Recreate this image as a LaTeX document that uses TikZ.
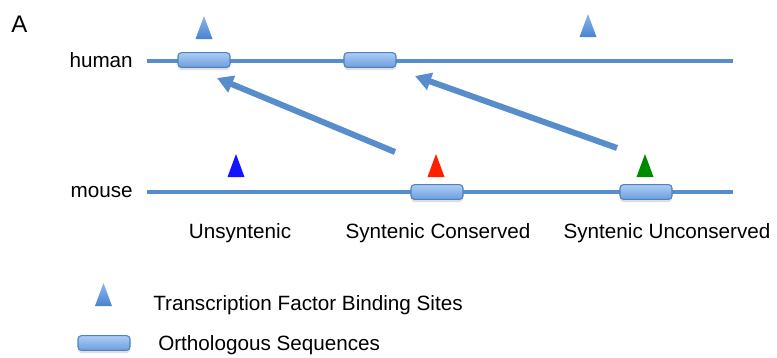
\documentclass[tikz,border=0pt]{standalone}
\usepackage{fontspec}
\setmainfont{Liberation Sans}
\usetikzlibrary{arrows.meta,shadows}

\definecolor{seqblue}{RGB}{88,141,204}
\definecolor{boxedge}{RGB}{79,129,189}
\definecolor{boxtop}{RGB}{172,205,246}
\definecolor{boxbot}{RGB}{108,158,220}
\definecolor{tftop}{RGB}{140,184,238}
\definecolor{tfbot}{RGB}{72,130,206}
\definecolor{tfred}{RGB}{255,30,0}
\definecolor{tfgreen}{RGB}{0,138,0}
\definecolor{tfblue}{RGB}{20,20,255}

\begin{document}
\begin{tikzpicture}[x=0.75pt,y=-0.75pt,
  font=\fontsize{15.5}{18}\selectfont,
  chrom/.style={line width=3pt, draw=seqblue},
  chromshadow/.style={line width=3.5pt, draw=black, opacity=.15, yshift=-2.2pt},
  ortho/.style={draw=boxedge, line width=0.8pt, rounded corners=2.5pt,
    top color=boxtop, bottom color=boxbot, minimum width=39pt,
    minimum height=11pt, inner sep=0pt,
    drop shadow={shadow xshift=0pt, shadow yshift=-2pt, opacity=.25}},
  rowname/.style={anchor=base east, inner sep=0pt},
  classname/.style={anchor=base, inner sep=0pt},
  legendtext/.style={anchor=base west, inner sep=0pt},
  link/.style={line width=4.5pt, draw=seqblue, -{Triangle[length=12pt,width=13pt]}},
  tfshade/.style={top color=tftop, bottom color=tfbot,
    drop shadow={shadow xshift=0pt, shadow yshift=-2pt, opacity=.25}},
  tfbs/.pic={\path[pic actions] (-8.5,0) -- (0,-23) -- (8.5,0) -- cycle;}
]
\useasboundingbox (0,0) rectangle (777,357);

% panel letter and row names
\node[anchor=base west, inner sep=0pt, font=\fontsize{18}{20}\selectfont] (panel) at (11,32) {A};
\node[rowname] (human) at (133,67) {human};
\node[rowname] (mouse) at (133,197) {mouse};

% chromosomes
\coordinate (h0) at (147,61);
\coordinate (h1) at (733,61);
\coordinate (m0) at (147,192);
\coordinate (m1) at (733,192);
\draw[chromshadow] (h0) -- (h1);
\draw[chromshadow] (m0) -- (m1);
\draw[chrom] (h0) -- (h1);
\draw[chrom] (m0) -- (m1);

% orthologous sequences
\node[ortho] (hbox1) at (204,60) {};
\node[ortho] (hbox2) at (370,60) {};
\node[ortho] (mbox1) at (437,192) {};
\node[ortho] (mbox2) at (646,192) {};

% binding sites
\pic[tfshade] (hsite1) at (204,39) {tfbs};
\pic[tfshade] (hsite2) at (588,37) {tfbs};
\pic[fill=tfblue] (msite1) at (236,177) {tfbs};
\pic[fill=tfred] (msite2) at (436,177) {tfbs};
\pic[fill=tfgreen] (msite3) at (645,177) {tfbs};

% mapping arrows
\coordinate (cons0) at (395,152);
\coordinate (cons1) at (217,78);
\coordinate (uncons0) at (617,148);
\coordinate (uncons1) at (415,76);
\draw[link] (cons0) -- (cons1);
\draw[link] (uncons0) -- (uncons1);

% classes
\node[classname] (unsyn) at (240,238) {Unsyntenic};
\node[classname] (syncons) at (438,238) {Syntenic Conserved};
\node[classname] (synuncons) at (667,238) {Syntenic Unconserved};

% legend
\pic[tfshade] (legsite) at (103.5,306) {tfbs};
\node[ortho] (legbox) at (104,343) {};
\node[legendtext] (legsitetext) at (153,310) {Transcription Factor Binding Sites};
\node[legendtext] (legboxtext) at (158,350) {Orthologous Sequences};
\end{tikzpicture}
\end{document}
